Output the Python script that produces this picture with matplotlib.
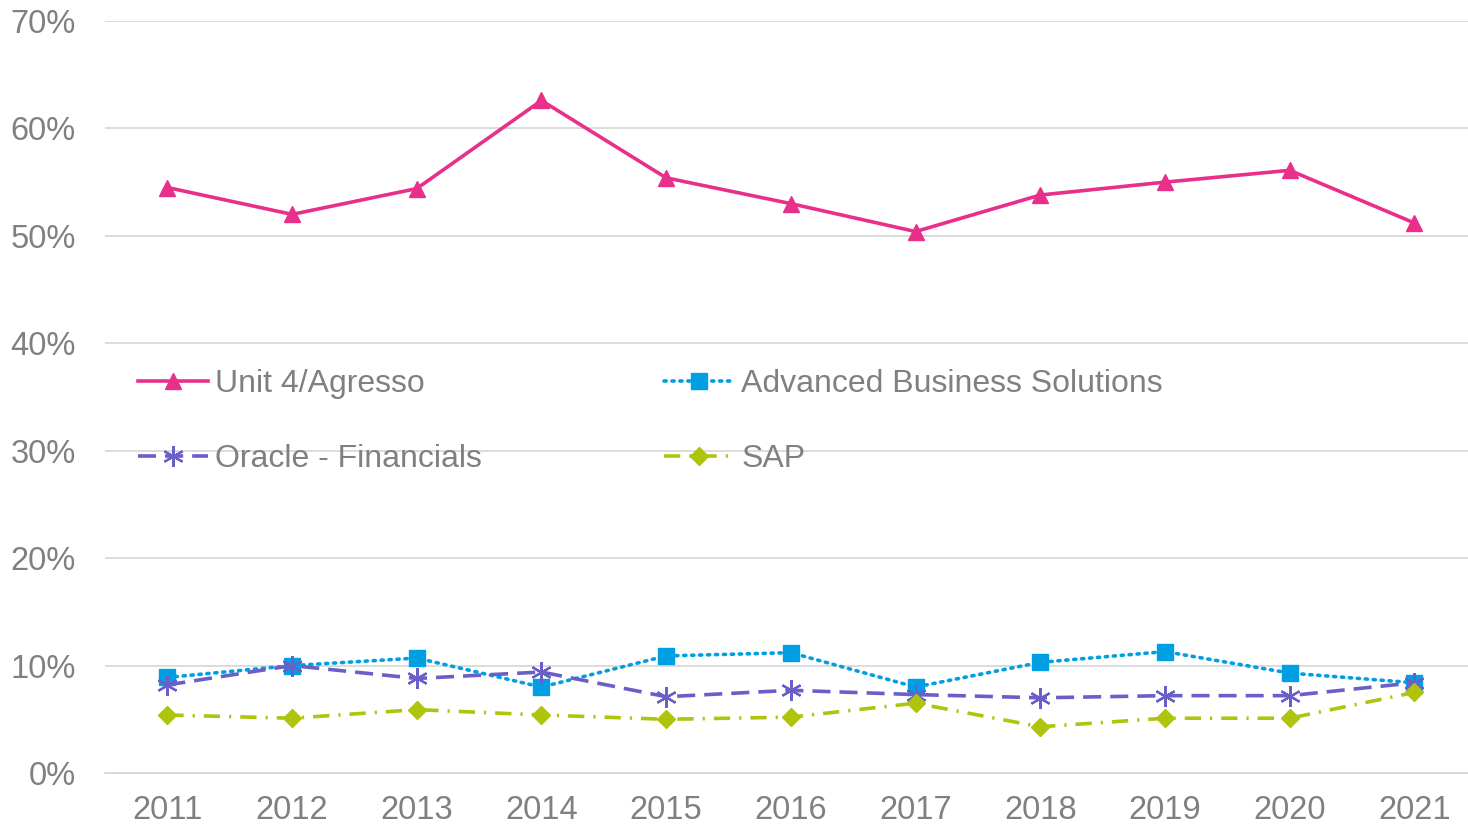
import matplotlib
matplotlib.use("Agg")
import matplotlib.pyplot as plt
import numpy as np

years = ["2011", "2012", "2013", "2014", "2015", "2016", "2017", "2018", "2019", "2020", "2021"]
unit4 = [54.5, 52.0, 54.4, 62.6, 55.4, 53.0, 50.4, 53.8, 55.0, 56.1, 51.2]
abs_sol = [8.9, 10.0, 10.7, 8.0, 10.9, 11.2, 8.0, 10.3, 11.3, 9.3, 8.4]
oracle = [8.2, 10.0, 8.8, 9.4, 7.1, 7.7, 7.3, 7.0, 7.2, 7.2, 8.4]
sap = [5.4, 5.1, 5.9, 5.4, 5.0, 5.2, 6.5, 4.3, 5.1, 5.1, 7.5]

grey = "#808080"
grid = "#d9d9d9"

plt.rcParams["font.family"] = ["Liberation Sans", "DejaVu Sans"]

fig = plt.figure(figsize=(14.68, 8.25), dpi=100)
ax = fig.add_axes([105 / 1468, 52 / 825, 1 - 105 / 1468, 752 / 825])

x = np.arange(len(years))
l1, = ax.plot(x, unit4, color="#E8308A", lw=2.6, marker="^", ms=12, label="Unit 4/Agresso")
l2, = ax.plot(x, abs_sol, color="#009FE3", lw=2.6, ls=(0, (0.6, 1.6)), dash_capstyle="round",
              marker="s", ms=11, label="Advanced Business Solutions")
l3, = ax.plot(x, oracle, color="#6A5FC9", lw=2.6, ls=(0, (5, 2.5)), marker=(6, 2, 0), ms=15,
              mew=1.6, label="Oracle - Financials")
l4, = ax.plot(x, sap, color="#AFC40C", lw=2.6, ls=(0, (4.5, 2.5, 0.6, 2.5)), marker="D", ms=9,
              label="SAP")

ax.set_xlim(-0.5, 10.43)
ax.set_ylim(0, 70)
ax.set_xticks(x)
ax.set_xticklabels(years)
ax.set_yticks(np.arange(0, 71, 10))
ax.set_yticklabels([f"{v}%" for v in range(0, 71, 10)])
ax.tick_params(axis="both", length=0, labelsize=23.5, labelcolor=grey)
ax.tick_params(axis="x", pad=16)
ax.tick_params(axis="y", pad=21)
ax.grid(axis="y", color=grid, lw=1.3)
ax.set_axisbelow(True)
for s in ["top", "right", "left"]:
    ax.spines[s].set_visible(False)
ax.spines["bottom"].set_color(grid)
ax.spines["bottom"].set_linewidth(1.3)

# row-major order: matplotlib fills columns first
leg = ax.legend([l1, l3, l2, l4], [l1.get_label(), l3.get_label(), l2.get_label(), l4.get_label()],
                ncol=2, loc="upper left", bbox_to_anchor=(0.024, 0.537), frameon=False,
                fontsize=23, handlelength=2.2, handletextpad=0.22, labelspacing=1.4,
                columnspacing=5.7, borderpad=0, borderaxespad=0)
for t in leg.get_texts():
    t.set_color(grey)

fig.savefig("out.png", dpi=100)
